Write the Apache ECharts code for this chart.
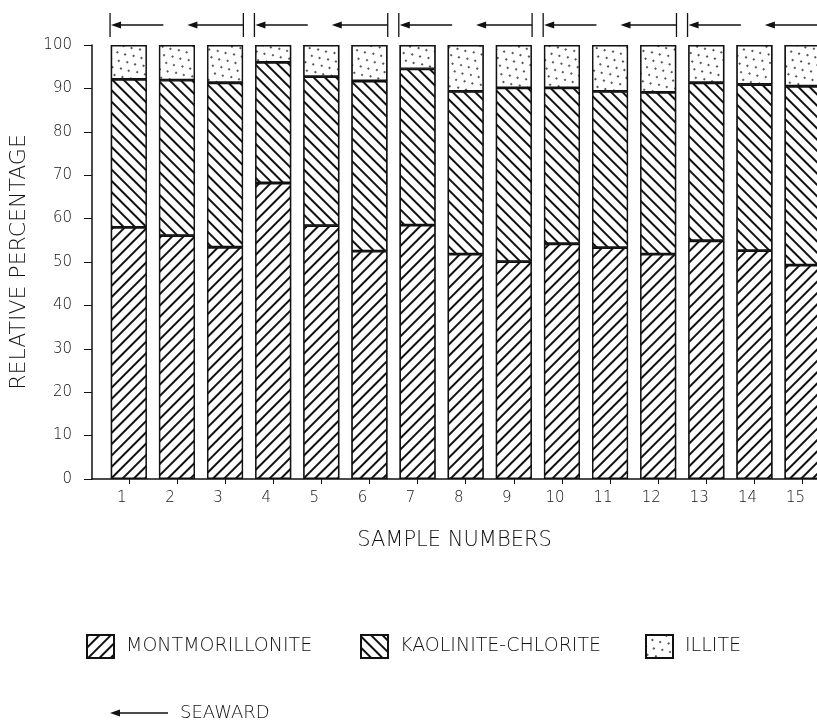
<!DOCTYPE html>
<html>
<head>
<meta charset="utf-8">
<script src="https://cdn.jsdelivr.net/npm/echarts@6/dist/echarts.min.js"></script>
<style>
html,body{margin:0;padding:0;background:#fff;}
#chart{width:817px;height:720px;}
</style>
</head>
<body>
<div id="chart"></div>
<script>
// ---- data ----
const samples = [1,2,3,4,5,6,7,8,9,10,11,12,13,14,15];
const montmorillonite = [58.0,56.1,53.4,68.2,58.4,52.5,58.5,51.8,50.1,54.2,53.3,51.8,54.9,52.6,49.3];
const kaoliniteChlorite = [34.1,35.8,37.9,27.8,34.3,39.2,36.0,37.5,40.0,35.9,36.0,37.3,36.4,38.3,41.2];
const illite = [7.9,8.1,8.7,4.0,7.3,8.3,5.5,10.7,9.9,9.9,10.7,10.9,8.7,9.1,9.5];
const yTicks = [0,10,20,30,40,50,60,70,80,90,100];
const seawardGroups = [[1,3],[4,6],[7,9],[10,12],[13,15]];
const seriesNames = ['MONTMORILLONITE','KAOLINITE-CHLORITE','ILLITE'];

const FONT = 'DejaVu Sans';
const chart = echarts.init(document.getElementById('chart'), null, {renderer:'canvas'});

// value first so that the stack is computed on the percentage dimension
function pairs(arr){ return arr.map((v,i)=>[v, samples[i]]); }

const barStyle = {
  color:'#ffffff', borderColor:'#111', borderWidth:1.4
};
const decals = [
  {symbol:'rect', symbolSize:1, dashArrayX:[1,0], dashArrayY:[1.2,6], rotation:-Math.PI/4, color:'#111', backgroundColor:'#fff'},
  {symbol:'rect', symbolSize:1, dashArrayX:[1,0], dashArrayY:[1.2,6], rotation:Math.PI/4, color:'#111', backgroundColor:'#fff'},
  {symbol:'circle', symbolSize:1, dashArrayX:[[1.8,6.2],[0,4,1.8,2.2]], dashArrayY:[1.8,4.2], color:'#222', backgroundColor:'#fff'}
];
const values = [montmorillonite, kaoliniteChlorite, illite];

const barSeries = seriesNames.map((n,k)=>({
  name:n, type:'bar', stack:'total', barWidth:36,
  data:pairs(values[k]),
  encode:{x:1, y:0},
  itemStyle:Object.assign({}, barStyle, {decal:decals[k]}),
  emphasis:{disabled:true}, animation:false
}));

function renderArrows(params, api){
  const s = api.value(0), e = api.value(1);
  const L = api.coord([s - 0.39, 100])[0];
  const R = api.coord([e + 0.38, 100])[0];
  const y = api.coord([s, 100])[1] - 20;
  const W = R - L;
  const x1 = L + 0.40*W, x2 = L + 0.58*W;
  const st = {stroke:'#111', lineWidth:1.3};
  return {type:'group', children:[
    {type:'line', shape:{x1:L,y1:y-12,x2:L,y2:y+12}, style:st},
    {type:'line', shape:{x1:R,y1:y-12,x2:R,y2:y+12}, style:st},
    {type:'line', shape:{x1:L+8,y1:y,x2:x1,y2:y}, style:st},
    {type:'polygon', shape:{points:[[L+1,y],[L+11,y-3.5],[L+11,y+3.5]]}, style:{fill:'#111'}},
    {type:'line', shape:{x1:x2+8,y1:y,x2:R,y2:y}, style:st},
    {type:'polygon', shape:{points:[[x2,y],[x2+10,y-3.5],[x2+10,y+3.5]]}, style:{fill:'#111'}}
  ]};
}

const legendText = {fontFamily:FONT, fontWeight:200, fontSize:19, color:'#111', padding:[0,0,0,7]};
function legendAt(name, left){
  return {data:[name], left:left, top:634, padding:0, icon:'rect', itemWidth:27, itemHeight:23,
    textStyle:legendText, selectedMode:false};
}

const option = {
  backgroundColor:'#fff',
  animation:false,
  aria:{enabled:true, decal:{show:true}},
  grid:{left:88, right:0, top:45, bottom:241, containLabel:false},
  xAxis:{
    type:'value', min:0.235, max:15.3,
    name:'SAMPLE NUMBERS', nameLocation:'middle', nameGap:51,
    nameTextStyle:{fontFamily:FONT, fontWeight:200, fontSize:21, color:'#111'},
    axisLine:{show:true, lineStyle:{color:'#111', width:1.5}},
    axisTick:{show:true, length:5, customValues:samples, lineStyle:{color:'#111', width:1}},
    axisLabel:{customValues:samples, fontFamily:FONT, fontWeight:200, fontSize:15, color:'#111', margin:12, padding:[0,14,0,0]},
    splitLine:{show:false}
  },
  yAxis:{
    type:'value', min:0, max:100, interval:10,
    name:'RELATIVE PERCENTAGE', nameLocation:'middle', nameGap:62, nameRotate:90,
    nameTextStyle:{fontFamily:FONT, fontWeight:200, fontSize:22, color:'#111', padding:[0,0,0,0]},
    axisLine:{show:true, lineStyle:{color:'#111', width:1.5}},
    axisTick:{show:true, length:8, lineStyle:{color:'#111', width:1}},
    axisLabel:{fontFamily:FONT, fontWeight:200, fontSize:15, color:'#111', margin:20,
      customValues:yTicks},
    splitLine:{show:false}
  },
  legend:[
    legendAt(seriesNames[0], 86),
    legendAt(seriesNames[1], 360),
    legendAt(seriesNames[2], 645)
  ],
  graphic:[
    {type:'group', left:110, top:704, children:[
      {type:'polygon', shape:{points:[[0,6],[10,2.5],[10,9.5]]}, style:{fill:'#111'}},
      {type:'line', shape:{x1:8,y1:6,x2:58,y2:6}, style:{stroke:'#111', lineWidth:1.3}},
      {type:'text', x:70, y:6, style:{text:'SEAWARD', fontFamily:FONT, fontWeight:200, fontSize:18, fill:'#111', verticalAlign:'middle'}}
    ]}
  ],
  series:barSeries.concat([{
    type:'custom', name:'seaward', coordinateSystem:'cartesian2d',
    renderItem:renderArrows, clip:false, silent:true,
    encode:{x:[0,1], y:-1},
    data:seawardGroups, z:5
  }])
};
chart.setOption(option);
</script>
</body>
</html>
